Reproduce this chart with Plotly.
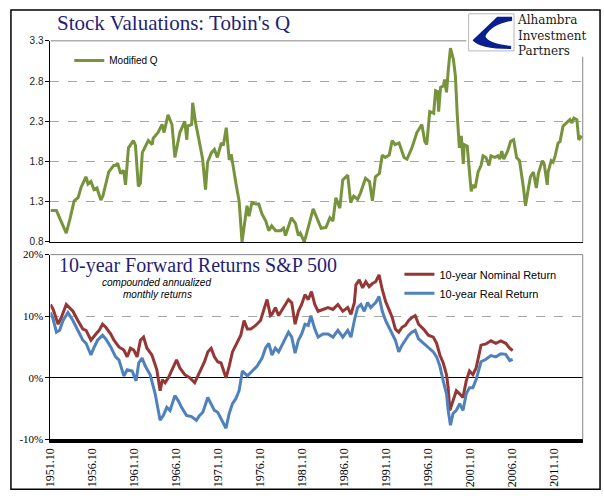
import plotly.graph_objects as go

# ---------------- data ----------------
q_dates = [1951.75, 1952.46, 1953.04, 1953.63, 1954.10, 1954.57, 1955.04, 1955.40, 1955.99, 1956.22,
           1956.57, 1956.93, 1957.28, 1957.75, 1957.99, 1958.34, 1958.69, 1959.28, 1959.51, 1959.75,
           1960.10, 1960.46, 1960.69, 1961.04, 1961.63, 1961.87, 1962.22, 1962.46, 1962.69, 1963.40,
           1963.87, 1963.99, 1964.57, 1965.04, 1965.28, 1965.75, 1966.22, 1966.57, 1966.93, 1967.16,
           1967.75, 1967.99, 1968.10, 1968.57, 1968.69, 1969.04, 1969.51, 1969.87, 1970.22, 1970.46,
           1970.93, 1971.28, 1971.63, 1972.10, 1972.34, 1972.69, 1973.04, 1973.28, 1973.87, 1974.22,
           1974.57, 1974.93, 1975.16, 1975.40, 1975.75, 1976.22, 1976.57, 1976.93, 1977.40, 1977.75,
           1978.10, 1978.57, 1979.16, 1979.51, 1979.75, 1980.22, 1980.46, 1980.93, 1981.28, 1981.51,
           1981.99, 1982.46, 1983.04, 1983.40, 1983.99, 1984.57, 1985.04, 1985.40, 1985.75, 1986.22,
           1986.57, 1987.16, 1987.51, 1987.87, 1988.34, 1988.69, 1989.28, 1989.75, 1990.10, 1990.46,
           1990.93, 1991.28, 1991.63, 1992.10, 1992.46, 1992.81, 1993.28, 1993.87, 1994.22, 1994.81,
           1995.40, 1995.99, 1996.34, 1996.57, 1996.93, 1997.40, 1997.63, 1997.87, 1997.99, 1998.22,
           1998.57, 1998.69, 1998.93, 1999.16, 1999.40, 1999.75, 1999.99, 2000.22, 2000.46, 2000.69,
           2000.93, 2001.04, 2001.40, 2001.63, 2001.87, 2002.10, 2002.34, 2002.69, 2003.04, 2003.28,
           2003.63, 2003.99, 2004.22, 2004.69, 2005.04, 2005.28, 2005.51, 2005.75, 2006.22, 2006.57,
           2006.93, 2007.28, 2007.63, 2008.10, 2008.34, 2008.69, 2008.93, 2009.28, 2009.63, 2009.87,
           2010.34, 2010.57, 2010.93, 2011.04, 2011.40, 2011.63, 2011.87, 2012.22, 2012.46, 2012.81,
           2013.28, 2013.63, 2013.87, 2014.10, 2014.46, 2014.69, 2015.04]
q_values = [1.19, 1.19, 1.05, 0.91, 1.10, 1.31, 1.35, 1.48, 1.61, 1.52,
            1.55, 1.45, 1.47, 1.32, 1.37, 1.53, 1.67, 1.75, 1.75, 1.78,
            1.65, 1.69, 1.51, 1.97, 2.06, 2.00, 1.49, 1.53, 1.91, 2.06,
            2.01, 2.09, 2.16, 2.26, 2.16, 2.38, 2.26, 1.85, 2.03, 2.16,
            2.30, 2.07, 2.24, 2.26, 2.53, 2.28, 2.03, 1.83, 1.45, 1.79,
            1.91, 1.95, 1.85, 2.03, 2.00, 2.22, 1.82, 1.89, 1.51, 1.31,
            0.80, 1.10, 1.25, 1.12, 1.29, 1.27, 1.27, 1.15, 1.06, 0.94,
            1.00, 0.94, 0.94, 0.97, 0.88, 1.03, 1.10, 1.03, 0.88, 0.91,
            0.80, 0.98, 1.21, 1.12, 0.97, 0.98, 1.10, 1.06, 1.35, 1.22,
            1.57, 1.63, 1.29, 1.37, 1.33, 1.41, 1.59, 1.55, 1.31, 1.61,
            1.65, 1.88, 1.85, 1.88, 2.06, 2.01, 2.03, 1.85, 1.83, 1.97,
            2.16, 2.26, 2.05, 2.01, 2.42, 2.40, 2.68, 2.67, 2.42, 2.72,
            2.74, 2.82, 2.66, 2.96, 3.21, 3.07, 2.86, 2.36, 1.97, 2.12,
            1.77, 2.01, 1.99, 1.71, 1.43, 1.51, 1.47, 1.67, 1.75, 1.87,
            1.85, 1.75, 1.87, 1.85, 1.87, 1.83, 1.93, 1.83, 1.93, 2.05,
            2.07, 1.85, 1.81, 1.47, 1.25, 1.47, 1.61, 1.67, 1.47, 1.65,
            1.81, 1.77, 1.51, 1.67, 1.81, 1.79, 1.87, 2.03, 2.05, 2.24,
            2.28, 2.32, 2.28, 2.34, 2.32, 2.07, 2.12]

nom_dates = [1951.75, 1952.07, 1952.66, 1953.04, 1953.63, 1953.99, 1954.42, 1955.01, 1955.60, 1955.99,
             1956.57, 1957.16, 1957.55, 1957.95, 1958.34, 1958.93, 1959.31, 1959.90, 1960.49, 1960.89,
             1961.28, 1961.67, 1962.07, 1962.46, 1962.84, 1963.24, 1963.83, 1964.42, 1964.81, 1965.08,
             1965.40, 1965.79, 1966.37, 1966.77, 1967.16, 1967.75, 1968.34, 1968.93, 1969.31, 1969.71,
             1970.10, 1970.49, 1970.89, 1971.28, 1971.67, 1972.07, 1972.66, 1973.04, 1973.43, 1973.83,
             1974.42, 1974.81, 1975.20, 1975.60, 1976.19, 1976.77, 1977.16, 1977.55, 1977.95, 1978.14,
             1978.54, 1978.93, 1979.51, 1980.10, 1980.49, 1980.89, 1981.28, 1981.67, 1982.07, 1982.46,
             1982.84, 1983.24, 1983.63, 1984.22, 1984.81, 1985.40, 1985.99, 1986.57, 1987.16, 1987.55,
             1987.95, 1988.14, 1988.54, 1988.93, 1989.31, 1989.71, 1990.10, 1990.49, 1990.89, 1991.28,
             1991.67, 1992.07, 1992.46, 1992.84, 1993.24, 1993.63, 1994.02, 1994.42, 1994.81, 1995.20,
             1995.60, 1996.19, 1996.77, 1997.36, 1997.75, 1998.14, 1998.54, 1998.93, 1999.13, 1999.32,
             1999.71, 2000.10, 2000.49, 2000.89, 2001.28, 2001.67, 2002.07, 2002.46, 2003.04, 2003.63,
             2004.22, 2004.81, 2005.40, 2005.99, 2006.46, 2006.81]
nom_values = [11.9, 11.1, 8.7, 9.8, 11.9, 11.4, 10.8, 9.3, 7.9, 7.7,
              6.1, 7.1, 7.7, 8.7, 8.2, 7.1, 6.1, 5.0, 4.5, 3.4,
              4.8, 4.5, 3.4, 6.1, 6.6, 4.8, 3.7, 1.3, -2.1, -0.3,
              -0.8, 0.0, 1.9, 2.9, 1.6, 0.5, 0.0, -0.8, 0.3, 1.6,
              2.6, 4.2, 4.8, 3.4, 2.6, 2.4, 0.0, 1.9, 4.2, 5.3,
              6.9, 9.3, 7.9, 7.9, 8.5, 9.3, 11.1, 12.7, 10.1, 10.3,
              11.4, 10.1, 11.4, 12.7, 12.2, 8.7, 10.8, 11.9, 13.5, 12.7,
              14.0, 11.9, 10.8, 11.1, 11.4, 11.1, 11.9, 10.8, 11.4, 10.3,
              12.2, 15.1, 15.9, 14.6, 15.6, 14.8, 15.3, 15.6, 16.7, 14.3,
              12.4, 11.1, 9.8, 7.9, 7.4, 8.2, 8.5, 9.3, 9.8, 10.1,
              8.7, 7.9, 6.9, 6.6, 5.6, 3.7, 2.4, 0.5, -1.6, -5.3,
              -3.7, -2.1, -2.6, -3.2, -0.5, 1.1, 0.5, 1.6, 5.3, 5.5,
              6.0, 5.6, 6.0, 5.6, 4.8, 4.4]

real_dates = [1951.75, 1952.07, 1952.46, 1952.84, 1953.24, 1953.83, 1954.42, 1955.01, 1955.60, 1955.99,
              1956.57, 1956.96, 1957.36, 1957.95, 1958.34, 1958.93, 1959.51, 1959.90, 1960.49, 1960.89,
              1961.48, 1961.95, 1962.26, 1962.66, 1963.04, 1963.63, 1964.22, 1964.81, 1965.20, 1965.60,
              1965.99, 1966.57, 1966.96, 1967.36, 1967.95, 1968.54, 1969.13, 1969.51, 1969.90, 1970.49,
              1970.89, 1971.28, 1971.67, 1972.26, 1972.66, 1973.04, 1973.43, 1973.83, 1974.22, 1974.61,
              1975.20, 1975.79, 1976.37, 1976.96, 1977.36, 1977.75, 1978.14, 1978.54, 1978.93, 1979.51,
              1980.10, 1980.49, 1980.89, 1981.28, 1981.67, 1982.07, 1982.46, 1982.77, 1983.24, 1983.63,
              1984.22, 1984.81, 1985.40, 1985.99, 1986.57, 1987.16, 1987.55, 1987.95, 1988.34, 1988.73,
              1989.13, 1989.52, 1989.90, 1990.49, 1990.89, 1991.28, 1991.67, 1992.07, 1992.46, 1992.84,
              1993.24, 1993.63, 1994.02, 1994.42, 1994.81, 1995.20, 1995.60, 1996.19, 1996.77, 1997.36,
              1997.75, 1998.14, 1998.54, 1998.93, 1999.13, 1999.40, 1999.71, 2000.10, 2000.49, 2000.89,
              2001.28, 2001.67, 2002.07, 2002.46, 2003.04, 2003.63, 2004.22, 2004.81, 2005.40, 2005.99,
              2006.46, 2006.81]
real_values = [10.6, 9.5, 7.4, 7.7, 9.3, 10.6, 9.3, 7.7, 6.1, 5.6,
               3.7, 5.0, 6.1, 6.9, 6.3, 5.0, 3.4, 2.9, 0.3, 1.3,
               1.1, -0.5, 2.4, 3.2, 1.9, 0.5, -2.6, -6.9, -6.1, -4.8,
               -5.3, -2.9, -3.7, -4.8, -6.1, -6.3, -6.9, -6.1, -5.6, -3.2,
               -4.2, -5.3, -5.6, -7.1, -8.2, -5.8, -4.2, -3.4, -2.1, 1.1,
               0.3, 1.1, 1.9, 3.2, 4.8, 5.6, 3.7, 4.8, 4.2, 5.8,
               7.4, 6.6, 4.0, 6.1, 7.1, 8.7, 8.5, 10.1, 7.9, 6.6,
               7.1, 7.1, 6.6, 7.7, 6.6, 7.7, 6.6, 9.3, 11.4, 11.9,
               10.8, 12.2, 11.4, 12.2, 13.2, 10.8, 9.3, 8.2, 7.1, 6.1,
               4.2, 5.3, 6.1, 6.9, 7.4, 7.7, 6.3, 5.6, 4.8, 4.2,
               3.4, 1.9, -0.5, -2.6, -5.3, -7.7, -5.8, -5.3, -4.2, -5.3,
               -2.6, -1.6, -1.6, -0.3, 2.6, 3.0, 3.6, 3.4, 3.9, 3.8,
               2.8, 3.0]

x_tick_vals = [1951.75 + 5 * i for i in range(13)]
x_tick_text = ["1951.10", "1956.10", "1961.10", "1966.10", "1971.10", "1976.10", "1981.10",
               "1986.10", "1991.10", "1996.10", "2001.10", "2006.10", "2011.10"]
q_ticks = [0.8, 1.3, 1.8, 2.3, 2.8, 3.3]
q_tick_text = ["0.8", "1.3", "1.8", "2.3", "2.8", "3.3"]
r_ticks = [-10, 0, 10, 20]
r_tick_text = ["-10%", "0%", "10%", "20%"]

# ---------------- layout helpers ----------------
W, H = 604, 501
def px(x):
    return x / W
def py(y):
    return 1 - y / H

X_RANGE = [1951.75, 2015.16]
GREEN = "#77933C"
RED = "#953735"
BLUE = "#4F81BD"
NAVY = "#1F1F78"
GRID = "#A6A6A6"

fig = go.Figure()
fig.add_trace(go.Scatter(x=q_dates, y=q_values, mode="lines", name="Modified Q",
                         line=dict(color=GREEN, width=3), xaxis="x", yaxis="y", legend="legend"))
fig.add_trace(go.Scatter(x=nom_dates, y=nom_values, mode="lines", name="10-year Nominal Return",
                         line=dict(color=RED, width=3), xaxis="x2", yaxis="y2", legend="legend2"))
fig.add_trace(go.Scatter(x=real_dates, y=real_values, mode="lines", name="10-year Real Return",
                         line=dict(color=BLUE, width=3), xaxis="x2", yaxis="y2", legend="legend2"))

sans = "Liberation Sans, Arial, sans-serif"
serif = "Liberation Serif, Times New Roman, serif"

fig.update_layout(
    width=W, height=H, autosize=False,
    margin=dict(l=0, r=0, t=0, b=0),
    paper_bgcolor="white", plot_bgcolor="white",
    xaxis=dict(domain=[px(44), px(582.5)], range=X_RANGE, anchor="y",
               showticklabels=False, ticks="", showgrid=False, zeroline=False,
               showline=True, linecolor="black", linewidth=1),
    yaxis=dict(domain=[py(241.7), py(35.7)], range=[0.8, 3.3], anchor="x",
               tickvals=q_ticks, ticktext=q_tick_text, ticks="outside", ticklen=4,
               tickcolor="black", tickfont=dict(family=sans, size=10, color="#222"),
               showgrid=True, gridcolor=GRID, griddash="dash", gridwidth=1,
               zeroline=False, showline=True, linecolor="black", linewidth=1),
    xaxis2=dict(domain=[px(44), px(582.5)], range=X_RANGE, anchor="y2",
                tickvals=x_tick_vals, ticktext=x_tick_text, tickangle=-90, ticks="",
                tickfont=dict(family=serif, size=12, color="black"),
                showgrid=False, zeroline=False,
                showline=True, linecolor="black", linewidth=4),
    yaxis2=dict(domain=[py(444), py(254.7)], range=[-10, 20], anchor="x2",
                tickvals=r_ticks, ticktext=r_tick_text, ticks="outside", ticklen=4,
                tickcolor="black", tickfont=dict(family=serif, size=11, color="black"),
                showgrid=True, gridcolor=GRID, griddash="dash", gridwidth=1,
                zeroline=True, zerolinecolor="black", zerolinewidth=1,
                showline=True, linecolor="black", linewidth=1),
    legend=dict(x=px(63), y=py(41), xanchor="left", yanchor="top",
                bgcolor="rgba(0,0,0,0)", font=dict(family=sans, size=10, color="black"),
                itemwidth=30),
    legend2=dict(x=px(397), y=py(260), xanchor="left", yanchor="top",
                 bgcolor="rgba(0,0,0,0)", font=dict(family=sans, size=11, color="black"),
                 itemwidth=30, tracegroupgap=0),
    showlegend=True,
)

shapes = []
# plot-area borders (gray)
shapes.append(dict(type="line", xref="paper", yref="paper", x0=px(44), x1=px(465),
                   y0=py(35.7), y1=py(35.7), line=dict(color="#868686", width=1), layer="above"))
shapes.append(dict(type="line", xref="paper", yref="paper", x0=px(582.5), x1=px(582.5),
                   y0=py(52), y1=py(241.7), line=dict(color="#868686", width=1), layer="above"))
shapes.append(dict(type="line", xref="paper", yref="paper", x0=px(44), x1=px(582.5),
                   y0=py(254.7), y1=py(254.7), line=dict(color="#868686", width=1), layer="above"))
shapes.append(dict(type="line", xref="paper", yref="paper", x0=px(582.5), x1=px(582.5),
                   y0=py(254.7), y1=py(444), line=dict(color="#868686", width=1), layer="above"))
# white area behind the logo
shapes.append(dict(type="rect", xref="paper", yref="paper", x0=px(465), x1=px(598),
                   y0=py(51), y1=py(6), fillcolor="white", line=dict(width=0), layer="above"))
# logo box
shapes.append(dict(type="rect", xref="paper", yref="paper", x0=px(467), x1=px(513),
                   y0=py(46), y1=py(8), fillcolor="white",
                   line=dict(color="#B8B8B8", width=1), layer="above"))
# logo swoosh
def P(x, y):
    return f"{px(x):.5f},{py(y):.5f}"
path = (f"M {P(511,11)} L {P(496,11)} L {P(471,35)} "
        f"Q {P(478,44)} {P(510,44)} L {P(510,41)} "
        f"Q {P(486,38)} {P(484,31)} Q {P(490,19)} {P(511,15)} Z")
shapes.append(dict(type="path", xref="paper", yref="paper", path=path,
                   fillcolor="#0A1F8F", line=dict(width=0), layer="above"))
# outer frame
shapes.append(dict(type="rect", xref="paper", yref="paper", x0=px(4), x1=px(600),
                   y0=py(495), y1=py(4), line=dict(color="black", width=1.5),
                   fillcolor="rgba(0,0,0,0)", layer="above"))
fig.update_layout(shapes=shapes)

ann = []
ann.append(dict(text="Stock Valuations: Tobin's Q", xref="paper", yref="paper",
                x=px(49), y=py(17), xanchor="left", yanchor="middle", showarrow=False,
                font=dict(family=serif, size=21, color=NAVY)))
ann.append(dict(text="10-year Forward Returns S&P 500", xref="paper", yref="paper",
                x=px(51), y=py(266), xanchor="left", yanchor="middle", showarrow=False,
                font=dict(family=serif, size=20, color=NAVY)))
ann.append(dict(text="<i>compounded annualized</i>", xref="paper", yref="paper",
                x=px(151), y=py(283), xanchor="center", yanchor="middle", showarrow=False,
                font=dict(family=sans, size=10, color="black")))
ann.append(dict(text="<i>monthly returns</i>", xref="paper", yref="paper",
                x=px(152), y=py(296), xanchor="center", yanchor="middle", showarrow=False,
                font=dict(family=sans, size=10, color="black")))
ann.append(dict(text="Alhambra<br>Investment<br>Partners", xref="paper", yref="paper",
                x=px(514), y=py(30.5), xanchor="left", yanchor="middle", align="left",
                showarrow=False, font=dict(family="DejaVu Serif, serif", size=12, color="#1A1A1A")))
fig.update_layout(annotations=ann)

fig.write_html("out.html", config={"displayModeBar": False},
               post_script="document.body.style.margin='0px';")
